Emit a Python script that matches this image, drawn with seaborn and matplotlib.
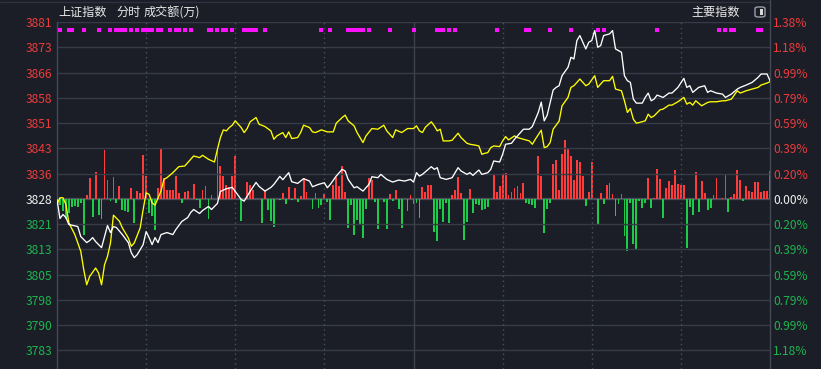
import numpy as np
import pandas as pd
import matplotlib
matplotlib.use("Agg")
import matplotlib.pyplot as plt
import seaborn as sns
from matplotlib.patches import FancyBboxPatch, Rectangle
from matplotlib.lines import Line2D

# ---------------- data ----------------
BASE = 3828.2          # previous close
STEP = 7.55            # index points between horizontal grid lines
tick_steps = list(range(-6, 8))
left_labels = ["3783", "3790", "3798", "3805", "3813", "3821", "3828",
               "3836", "3843", "3851", "3858", "3866", "3873", "3881"]
right_labels = ["1.18%", "0.99%", "0.79%", "0.59%", "0.39%", "0.20%", "0.00%",
                "0.20%", "0.39%", "0.59%", "0.79%", "0.99%", "1.18%", "1.38%"]

white_min = [0, 1, 2, 3, 4, 7, 8, 10, 11, 12, 13, 15, 17, 18, 19, 20, 22, 24, 25, 26, 27, 29, 30, 31, 32, 33, 34, 35, 37, 39,
             40, 42, 44, 45, 46, 48, 49, 51, 52, 54, 55, 57, 59, 60, 62, 63, 65, 67, 68, 70, 72, 73, 75, 76, 78, 79, 81, 83, 85, 86,
             88, 90, 91, 92, 94, 96, 97, 98, 100, 101, 103, 105, 106, 108, 109, 111, 113, 115, 117, 119, 120, 121, 122, 123, 126, 127,
             128, 129, 131, 133, 135, 136, 138, 139, 140, 142, 143, 145, 146, 147, 149, 150, 151, 153, 154, 155, 157, 159, 160, 162,
             163, 164, 165, 167, 168, 169, 170, 172, 173, 174, 175, 176, 178, 179, 180, 181, 182, 183, 184, 186, 187, 188, 190, 191,
             192, 193, 194, 195, 197, 198, 199, 200, 201, 202, 204, 206, 207, 209, 211, 212, 213, 214, 216, 218, 219, 220, 222, 224,
             225, 227, 229, 230, 232, 234, 236, 237, 239, 240]
white_val = [3828.0, 3822.3, 3823.5, 3822.6, 3820.5, 3819.9, 3816.9, 3815.1, 3815.7, 3816.6, 3815.4, 3813.6, 3820.2, 3818.1,
             3819.9, 3819.6, 3817.5, 3815.1, 3812.1, 3810.6, 3811.5, 3814.5, 3818.4, 3816.6, 3814.5, 3816.6, 3815.1, 3817.5,
             3818.1, 3817.5, 3819.0, 3821.4, 3822.6, 3824.1, 3825.0, 3823.8, 3824.7, 3825.9, 3825.0, 3826.8, 3830.4, 3831.2,
             3831.6, 3830.4, 3828.0, 3827.5, 3830.4, 3833.1, 3831.9, 3830.5, 3831.6, 3832.5, 3834.9, 3833.9, 3836.0, 3833.3,
             3832.8, 3834.2, 3833.5, 3831.8, 3832.5, 3833.0, 3831.5, 3832.5, 3835.0, 3837.0, 3836.5, 3834.0, 3831.5, 3831.8,
             3830.5, 3832.5, 3834.8, 3834.5, 3835.5, 3834.0, 3833.2, 3833.8, 3833.5, 3834.0, 3833.2, 3836.0, 3835.0, 3835.5,
             3837.8, 3837.0, 3837.5, 3834.5, 3834.0, 3834.5, 3837.5, 3836.5, 3835.5, 3836.0, 3835.2, 3836.8, 3835.5, 3836.0,
             3837.0, 3839.5, 3839.2, 3841.5, 3844.5, 3844.8, 3846.0, 3847.0, 3849.0, 3849.0, 3849.8, 3854.0, 3857.1, 3851.5,
             3853.2, 3860.7, 3861.5, 3862.0, 3865.0, 3867.5, 3870.5, 3870.0, 3875.5, 3877.0, 3873.0, 3875.0, 3875.5, 3878.5,
             3873.5, 3874.0, 3877.0, 3877.5, 3878.5, 3873.0, 3872.0, 3865.0, 3863.5, 3863.0, 3858.0, 3856.8, 3856.8, 3858.5,
             3859.8, 3857.5, 3858.0, 3859.2, 3858.5, 3859.8, 3859.8, 3861.5, 3864.2, 3861.5, 3862.0, 3860.0, 3861.5, 3862.0,
             3860.0, 3860.5, 3859.8, 3859.5, 3858.5, 3859.5, 3861.0, 3861.5, 3862.2, 3863.0, 3864.5, 3865.5, 3865.5, 3863.5]

yellow_min = [0, 1, 2, 3, 4, 6, 8, 9, 10, 11, 13, 14, 15, 16, 17, 18, 19, 21, 22, 24, 25, 26, 28, 29, 30, 31, 32, 33, 35, 36,
              37, 39, 41, 43, 44, 46, 48, 49, 51, 53, 54, 55, 56, 57, 58, 59, 60, 62, 63, 64, 65, 67, 68, 70, 72, 73, 74, 76, 77,
              78, 79, 81, 82, 83, 85, 86, 87, 89, 90, 91, 93, 94, 96, 97, 98, 100, 101, 103, 104, 106, 108, 110, 111, 113, 114,
              116, 118, 120, 121, 122, 123, 124, 126, 127, 128, 129, 130, 132, 133, 135, 136, 138, 139, 141, 142, 143, 144, 145,
              146, 147, 149, 150, 151, 152, 154, 155, 157, 159, 160, 161, 163, 164, 165, 166, 167, 169, 170, 172, 173, 174, 176,
              178, 179, 181, 182, 183, 184, 186, 187, 188, 190, 191, 192, 193, 194, 195, 196, 198, 199, 200, 201, 203, 204, 206,
              207, 209, 211, 212, 213, 214, 215, 217, 219, 220, 222, 224, 225, 227, 229, 230, 232, 234, 236, 237, 239, 240]
yellow_val = [3826.5, 3828.5, 3828.5, 3826.5, 3821.0, 3817.5, 3812.5, 3807.0, 3802.5, 3805.0, 3807.5, 3806.0, 3802.5, 3808.5,
              3811.0, 3815.0, 3823.3, 3821.5, 3819.5, 3816.5, 3814.0, 3815.0, 3819.5, 3825.0, 3830.0, 3829.5, 3827.0, 3826.3,
              3830.5, 3834.0, 3834.5, 3836.0, 3837.8, 3838.0, 3839.0, 3841.0, 3840.5, 3841.2, 3840.0, 3839.2, 3843.0, 3846.5,
              3848.8, 3848.5, 3849.5, 3850.2, 3851.5, 3849.5, 3848.0, 3849.2, 3851.2, 3852.5, 3850.5, 3849.8, 3848.5, 3846.0,
              3847.0, 3848.0, 3846.5, 3848.2, 3846.2, 3846.5, 3848.0, 3850.2, 3849.5, 3848.2, 3848.0, 3848.8, 3848.5, 3848.2,
              3848.2, 3850.8, 3852.5, 3853.2, 3851.5, 3850.0, 3848.0, 3845.0, 3847.0, 3849.2, 3849.0, 3850.2, 3848.5, 3846.5,
              3848.8, 3848.0, 3849.2, 3849.2, 3850.0, 3848.5, 3848.0, 3849.6, 3851.2, 3850.0, 3848.5, 3849.0, 3845.5, 3845.5,
              3845.7, 3847.8, 3846.5, 3844.8, 3844.5, 3844.2, 3844.0, 3841.5, 3841.8, 3842.0, 3843.5, 3844.0, 3843.8, 3845.5,
              3846.8, 3845.8, 3847.0, 3846.5, 3846.0, 3845.5, 3844.5, 3846.0, 3848.7, 3843.5, 3843.8, 3845.0, 3849.0, 3851.4,
              3856.0, 3858.5, 3861.5, 3862.0, 3864.0, 3862.0, 3862.5, 3865.0, 3861.5, 3862.5, 3863.5, 3863.5, 3864.8, 3861.0,
              3860.5, 3857.5, 3854.0, 3855.2, 3852.0, 3850.8, 3851.0, 3851.5, 3853.5, 3852.5, 3853.0, 3854.8, 3855.0, 3856.2,
              3856.2, 3857.2, 3858.5, 3856.5, 3857.0, 3856.2, 3857.5, 3856.0, 3857.0, 3857.2, 3857.2, 3857.5, 3857.5, 3858.0,
              3860.5, 3859.8, 3860.5, 3861.0, 3861.5, 3862.2, 3862.8, 3863.2]

# net turnover bars (arbitrary units): up = red, down = green
up_min = [10, 11, 13, 16, 17, 19, 21, 25, 27, 28, 29, 30, 34, 35, 36, 37, 38, 39, 40, 41, 43, 44, 46, 49, 50, 52, 54, 55, 56,
          57, 58, 59, 60, 64, 65, 66, 70, 76, 78, 80, 82, 83, 84, 87, 90, 93, 94, 95, 96, 97, 105, 106, 112, 114, 119, 123,
          124, 125, 126, 133, 134, 135, 136, 139, 147, 148, 149, 150, 151, 152, 153, 154, 155, 156, 157, 162, 163, 167, 168,
          169, 170, 171, 172, 173, 174, 175, 176, 177, 179, 180, 183, 185, 186, 187, 190, 199, 201, 202, 203, 205, 206, 207,
          208, 209, 210, 211, 215, 217, 218, 221, 222, 224, 225, 227, 228, 229, 230, 232, 233, 234, 235, 236, 237, 238, 239, 240]
up_val = [3.3, 21, 26.7, 49.3, 19.3, 22, 13.3, 11, 8.3, 5.3, 44.3, 23.3, 11, 50.3, 21, 8.7, 8.7, 9.3, 23.3, 6, 6.7, 7.7, 15.3,
          9.3, 13.3, 3.3, 50, 32.7, 22.7, 14.3, 12, 23.3, 42.7, 16.7, 14.3, 8.7, 7.7, 6, 12, 11, 2.7, 21, 6.7, 5.3, 4.3, 14.3,
          22, 13.3, 32.7, 6.7, 21, 18.7, 4.3, 9.3, 3.3, 12, 6.7, 14.3, 14.3, 3.3, 8.7, 22, 5.3, 10.3, 25.3, 6.7, 13.3, 24.3,
          26, 3.3, 6.7, 11, 13.3, 5.3, 16, 42.7, 23.3, 35.3, 38.7, 8.7, 45.3, 59.3, 50, 42.7, 19.3, 38.7, 37.3, 23.3, 6.7,
          37.3, 6, 14.3, 16, 4.3, 4.3, 21, 1, 30, 20, 11, 18, 14.3, 29.3, 15.3, 14.3, 14.3, 27, 18, 6, 3.3, 21.3, 1, 24.3, 2,
          4.3, 29.3, 19.3, 12.7, 7.7, 6.7, 16.7, 16.7, 6.7, 7.7, 7.7, 27.7]
down_min = [0, 1, 2, 3, 4, 5, 6, 7, 8, 9, 12, 14, 15, 18, 20, 22, 23, 24, 26, 31, 32, 33, 42, 47, 48, 51, 62, 69, 71, 72, 73,
            75, 77, 79, 81, 86, 88, 89, 91, 92, 98, 99, 100, 101, 102, 103, 104, 107, 108, 110, 111, 113, 115, 116, 118, 120,
            121, 122, 127, 128, 129, 130, 131, 132, 137, 138, 140, 141, 142, 143, 144, 145, 158, 159, 160, 161, 164, 165, 166,
            178, 182, 184, 188, 189, 191, 192, 193, 194, 195, 196, 197, 198, 200, 204, 212, 213, 214, 216, 219, 220, 226, 231]
down_val = [9, 6.7, 12.3, 20, 14, 8, 7.3, 8, 4, 36.7, 18, 16.7, 20.7, 2.3, 4.7, 11.3, 12, 13.3, 24.7, 14.7, 17.3, 31.3, 4, 1.3,
            9, 20, 22.3, 24.7, 11.3, 22.3, 28, 1.3, 5.7, 1.3, 3.3, 10.7, 9, 6.7, 3.3, 21.3, 29.3, 6.7, 36.7, 21.3, 26.7, 39.3,
            10, 3.3, 30.7, 3.3, 30.7, 2.3, 10, 29.3, 12.3, 5.7, 4.7, 19.3, 33.3, 42.3, 10, 23.3, 4.7, 24.7, 41.3, 23.3, 14, 5.7,
            6.7, 11.3, 10.7, 8, 4.7, 5.7, 6.7, 9.3, 34, 10.7, 4, 7.3, 26.7, 5.7, 17.3, 5.7, 37.3, 52.3, 4.7, 45.7, 50, 2.3, 9.3,
            4.7, 9.3, 19.3, 49, 8.3, 16.7, 13.3, 11.3, 9.3, 13.3, 2.3]

# minutes flagged with magenta markers at the top
dot_min = [1, 4, 5, 9, 14, 18, 20, 21, 22, 23, 25, 27, 29, 30, 31, 32, 34, 35, 38, 40, 41, 43, 45, 51, 52, 54, 56, 57, 59,
           63, 64, 65, 66, 67, 70, 89, 92, 98, 99, 100, 101, 102, 103, 105, 112, 120, 128, 129, 130, 132, 134, 148, 158,
           159, 166, 173, 182, 184, 202, 223, 225, 227, 228, 236, 237]

# ---------------- style ----------------
BG = "#1b1e27"
GRID = "#363b46"
RED_TXT = "#ec3b3b"
GREEN_TXT = "#1db44e"
RED_BAR = "#ff3b3b"
GREEN_BAR = "#1ccb48"

sns.set_theme(style="dark")
plt.rcParams["font.family"] = ["Noto Sans CJK SC", "DejaVu Sans"]
plt.rcParams["axes.unicode_minus"] = False

W, H = 821, 369
fig = plt.figure(figsize=(W / 100, H / 100), dpi=100, facecolor=BG)
L, R, T, B = 57, 770, 22, 369
ax = fig.add_axes([L / W, 1 - B / H, (R - L) / W, (B - T) / H])
axv = ax.twinx()
ax.set_zorder(axv.get_zorder() + 1)
ax.patch.set_visible(False)
axv.set_facecolor(BG)

ticks = [BASE + k * STEP for k in tick_steps]
ymax = ticks[-1]
ymin = ticks[0] - 0.74 * STEP
ax.set_xlim(0, 240)
ax.set_ylim(ymin, ymax)

# volume axis: zero aligned with the previous-close line
frac0 = (BASE - ymin) / (ymax - ymin)
vtop = 177.3
vbot = -vtop * frac0 / (1 - frac0)
axv.set_ylim(vbot, vtop)
axv.set_xlim(0, 240)
axv.set_yticks([])
axv.grid(False)
for s in axv.spines.values():
    s.set_visible(False)

# grid lines
for k, t in zip(tick_steps, ticks):
    if k == 0:
        axv.axhline(0, color="#4a4f5a", lw=1.6, zorder=1)
    else:
        ax.axhline(t, color=GRID, lw=1.0, zorder=0)
for m in [30, 60, 90, 150, 180, 210]:
    ax.axvline(m, color="#4b515d", lw=1.0, ls=(0, (1, 2.5)), zorder=0)
ax.axvline(120, color="#3c424e", lw=1.0, zorder=0)

# volume bars
axv.bar(up_min, up_val, width=0.62, color=RED_BAR, linewidth=0, zorder=2, antialiased=False)
axv.bar(down_min, [-v for v in down_val], width=0.62, color=GREEN_BAR, linewidth=0, zorder=2,
        antialiased=False)

# lines
dfw = pd.DataFrame({"minute": white_min, "price": white_val})
dfy = pd.DataFrame({"minute": yellow_min, "price": yellow_val})
sns.lineplot(data=dfy, x="minute", y="price", ax=ax, color="#ffff00", lw=0.95, estimator=None, zorder=4)
sns.lineplot(data=dfw, x="minute", y="price", ax=ax, color="#ffffff", lw=0.95, estimator=None, zorder=5)

# magenta markers
dot_level = BASE + 6.69 * STEP
dfd = pd.DataFrame({"minute": dot_min, "level": [dot_level] * len(dot_min)})
sns.scatterplot(data=dfd, x="minute", y="level", ax=ax, marker="s", s=5.2, color="#ff10ff",
                linewidth=0, zorder=6)

# axes cosmetics
ax.grid(False)
ax.set_xlabel("")
ax.set_ylabel("")
ax.set_xticks([])
ax.set_yticks(ticks)
ax.set_yticklabels(left_labels)
ax.tick_params(axis="y", length=0, pad=3.2, labelsize=8.7)
for lab, k in zip(ax.get_yticklabels(), tick_steps):
    lab.set_color(RED_TXT if k > 0 else ("#f0f0f0" if k == 0 else GREEN_TXT))
for side in ["top", "bottom"]:
    ax.spines[side].set_visible(False)
ax.spines["left"].set_color("#434955")
ax.spines["right"].set_color("#434955")
ax.spines["left"].set_linewidth(1.0)
ax.spines["right"].set_linewidth(1.0)

axr = ax.twinx()
axr.set_zorder(ax.get_zorder() + 1)
axr.patch.set_visible(False)
axr.set_ylim(ymin, ymax)
axr.set_yticks(ticks)
axr.set_yticklabels(right_labels)
axr.tick_params(axis="y", length=0, pad=2.2, labelsize=8.7)
axr.grid(False)
for s in axr.spines.values():
    s.set_visible(False)
for lab, k in zip(axr.get_yticklabels(), tick_steps):
    lab.set_color(RED_TXT if k > 0 else ("#f0f0f0" if k == 0 else GREEN_TXT))

# top frame lines
fig.add_artist(Line2D([0, R / W], [1 - 1.5 / H, 1 - 1.5 / H], color="#2e323c", lw=1.0))
fig.add_artist(Line2D([R / W, R / W], [1 - T / H, 1], color="#434955", lw=1.0))

# header texts
ty = 1 - 12.7 / H
fig.text(58 / W, ty, "上证指数", color="#e8e8e8", fontsize=8.7, va="center", ha="left")
fig.text(116 / W, ty, "分时", color="#e8e8e8", fontsize=8.7, va="center", ha="left")
fig.text(144 / W, ty, "成交额(万)", color="#e8e8e8", fontsize=8.7, va="center", ha="left")
fig.text(740 / W, ty, "主要指数", color="#e8e8e8", fontsize=8.7, va="center", ha="right")

# small toggle icon
fig.add_artist(FancyBboxPatch((755 / W, 1 - 17 / H), 10 / W, 10 / H,
                              boxstyle="round,pad=0,rounding_size=0.004",
                              fc="none", ec="#9a9ea6", lw=1.0, transform=fig.transFigure))
fig.add_artist(Rectangle((760 / W, 1 - 15 / H), 3 / W, 6 / H, fc="#d8d8d8", ec="none",
                         transform=fig.transFigure))

fig.savefig("out.png", dpi=100, facecolor=BG)
